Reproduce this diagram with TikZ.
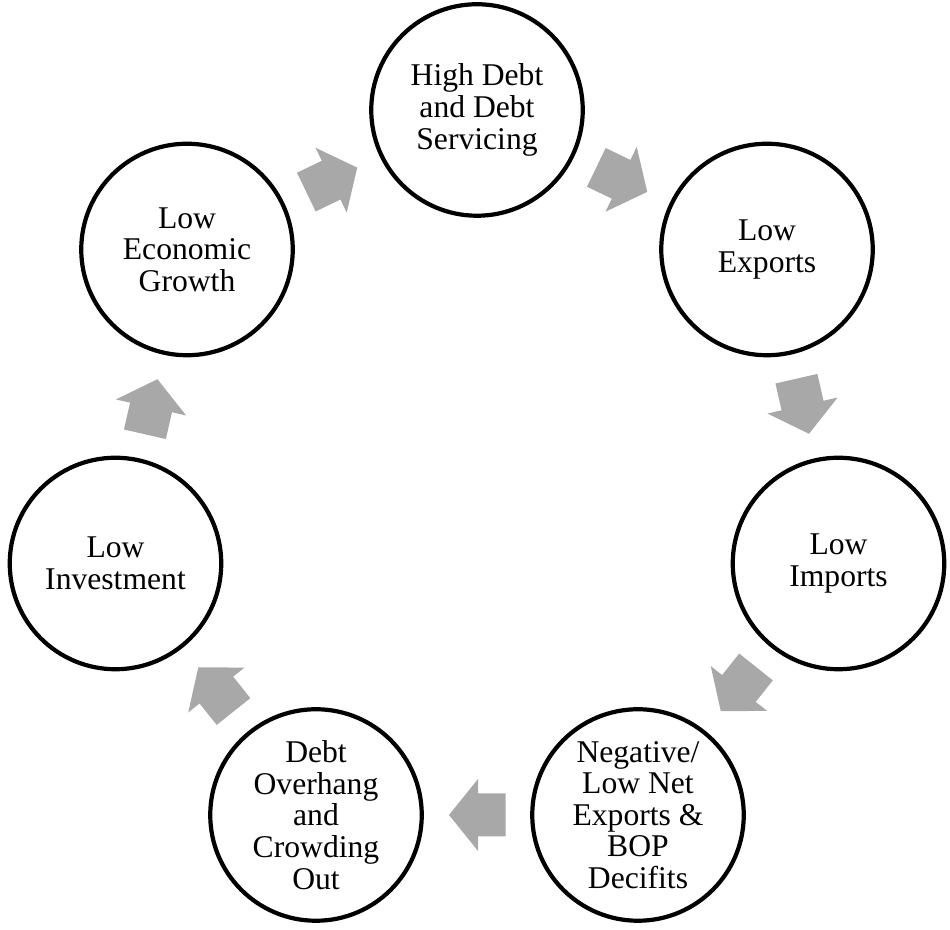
\documentclass[tikz,border=0pt]{standalone}
\usepackage{fontspec}
\setmainfont{Liberation Serif}
\usetikzlibrary{calc}
\definecolor{arrowgray}{RGB}{168,168,168}
\tikzset{
  cyc/.style={circle,draw,line width=2.4pt,minimum size=4.23cm,inner sep=0pt,
    align=center,font=\fontsize{18}{18}\selectfont},
  blockarrow/.style={fill=arrowgray}
}
\begin{document}
\begin{tikzpicture}
  \useasboundingbox (0,0) rectangle (19,18.6);
  \node[cyc] (debt)     at ( 9.54,16.40) {High Debt\\and Debt\\Servicing};
  \node[cyc] (exports)  at (15.34,13.61) {Low\\Exports};
  \node[cyc] (imports)  at (16.77, 7.33) {Low\\Imports};
  \node[cyc] (netexp)   at (12.76, 2.30) {Negative/\\Low Net\\Exports \&\\BOP\\Decifits};
  \node[cyc] (overhang) at ( 6.32, 2.30) {Debt\\Overhang\\and\\Crowding\\Out};
  \node[cyc] (invest)   at ( 2.31, 7.33) {Low\\Investment};
  \node[cyc] (growth)   at ( 3.74,13.61) {Low\\Economic\\Growth};
  \foreach \a/\b/\ang in {debt/exports/-25.714, exports/imports/-77.143,
      imports/netexp/-128.571, netexp/overhang/-180, overhang/invest/-231.429,
      invest/growth/-282.857, growth/debt/-334.286}
    \fill[blockarrow, shift={($(\a)!0.5!(\b)$)}, rotate=\ang]
      (-0.57,-0.43) -- (-0.02,-0.43) -- (-0.02,-0.72) -- (0.56,0)
      -- (-0.02,0.72) -- (-0.02,0.43) -- (-0.57,0.43) -- cycle;
\end{tikzpicture}
\end{document}
